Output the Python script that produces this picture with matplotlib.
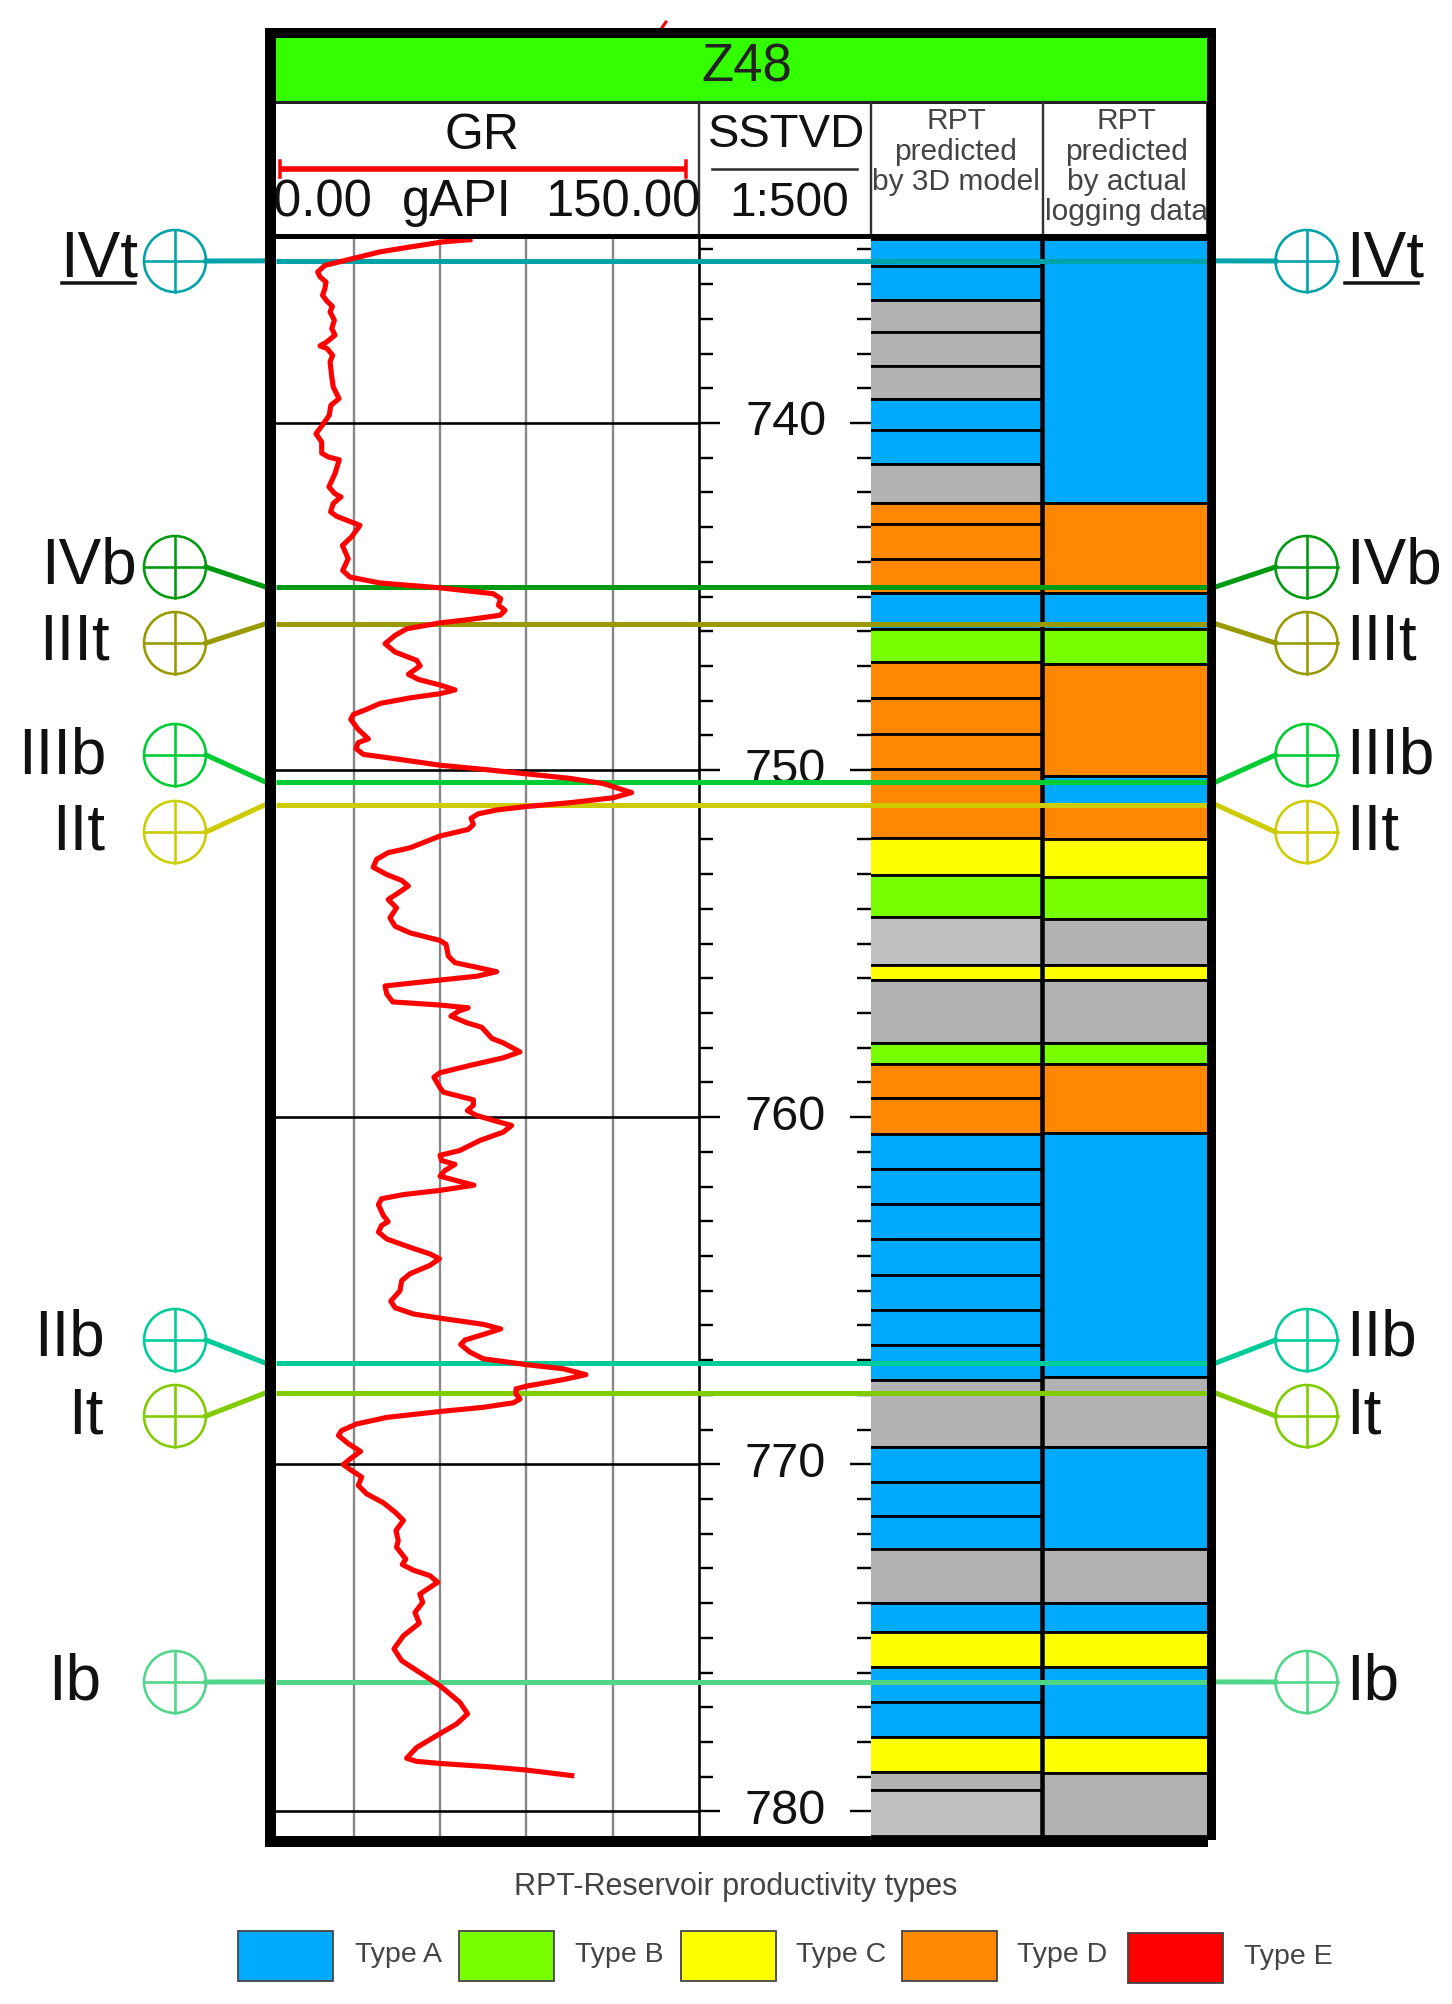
import matplotlib
matplotlib.use("Agg")
from matplotlib import pyplot as plt
from matplotlib.patches import Circle, Rectangle

plt.rcParams['font.family'] = ['Liberation Sans', 'DejaVu Sans']

# GR log (gAPI, m)
gr_values = [70.4, 61.2, 49.6, 39.2, 29.9, 20.0, 17.5, 18.3, 20.4, 20.0, 19.2, 20.6, 22.6, 21.8, 23.3, 22.4, 23.5,
             20.6, 18.3, 20.8, 22.7, 21.8, 22.4, 22.9, 24.9, 22.1, 21.5, 19.5, 16.9, 18.9, 18.9, 21.2, 25.0, 23.5,
             21.4, 23.5, 25.6, 22.9, 22.0, 24.1, 32.2, 29.3, 26.1, 28.1, 26.2, 28.7, 39.2, 60.0, 78.5, 81.1, 80.3,
             82.6, 80.9, 70.4, 60.0, 48.4, 44.4, 40.9, 44.4, 51.9,
             53.1, 49.0, 52.5, 60.0, 65.2, 60.0, 49.6, 39.2, 34.5, 29.9, 29.0, 31.6, 35.1, 31.6, 30.8, 33.4, 41.5,
             60.0, 75.1, 90.0, 105.2, 116.8, 126.6, 120.0, 105.2, 90.0, 79.7, 73.3, 70.8, 71.6, 69.8, 60.0, 53.6,
             49.6, 42.0, 38.0, 36.8, 41.5, 46.7, 49.0, 45.5, 42.0, 44.9, 42.6, 44.4, 49.6, 60.0, 62.1, 62.9, 65.2,
             72.7, 79.7, 72.7, 60.0, 40.9, 41.5, 43.6, 60.0, 69.8, 66.4, 63.8, 69.3, 74.5, 78.0, 82.0, 87.8, 82.0,
             70.4, 60.0, 57.9, 60.0,
             61.2, 71.6, 71.6, 69.5, 72.7, 79.7, 84.9, 82.0, 73.9, 66.9, 60.0, 60.6, 65.2, 61.7, 60.0, 65.8, 71.8,
             60.0, 47.3, 39.7, 38.6, 40.3, 42.0, 39.7, 38.6, 41.5, 49.6, 56.5, 59.8, 56.5, 49.6, 46.7, 46.1, 42.9,
             44.4, 50.7, 60.0, 75.1, 81.1, 75.1, 68.7, 67.2, 70.4, 75.0, 90.0, 102.9, 110.7, 102.9, 90.0, 86.4, 86.4,
             87.8, 85.5, 75.0, 60.0, 41.5, 31.0, 25.8, 24.7, 28.2, 32.4, 28.7, 26.4, 29.3, 32.8, 31.6, 34.5, 40.3,
             44.4, 47.3,
             44.7, 45.5, 44.9, 46.7, 48.1, 46.9, 50.7, 56.5, 59.2, 53.0, 54.0, 51.3, 52.8, 47.3, 44.0, 46.7, 60.0,
             66.9, 69.6, 65.8, 58.8, 51.9, 48.4, 51.9, 60.0, 76.2, 90.0, 105.8]
gr_depths = [734.72, 734.78, 734.93, 735.07, 735.26, 735.46, 735.65, 735.79, 735.94, 736.13, 736.32, 736.48, 736.64,
             736.80, 737.04, 737.28, 737.47, 737.67, 737.78, 737.86, 738.05, 738.24, 738.67, 738.96, 739.30, 739.49,
             739.78, 740.02, 740.31, 740.55, 740.87, 740.98, 741.06, 741.46, 741.84, 742.04, 742.13, 742.32, 742.56,
             742.69, 742.95, 743.28, 743.53, 743.91, 744.25, 744.44, 744.61, 744.75, 744.92, 745.06, 745.25, 745.40,
             745.54, 745.66, 745.76, 745.93, 746.12, 746.36, 746.60, 746.84,
             747.00, 747.24, 747.39, 747.55, 747.69, 747.80, 747.92, 748.08, 748.25, 748.40, 748.54, 748.83, 749.10,
             749.21, 749.38, 749.55, 749.64, 749.86, 749.98, 750.11, 750.24, 750.39, 750.65, 750.80, 750.94, 751.05,
             751.15, 751.26, 751.39, 751.57, 751.71, 751.90, 752.11, 752.24, 752.38, 752.57, 752.80, 753.01, 753.18,
             753.34, 753.54, 753.73, 753.97, 754.26, 754.50, 754.69, 754.91, 755.02, 755.36, 755.55, 755.68, 755.81,
             755.94, 756.05, 756.22, 756.45, 756.68, 756.77, 756.85, 756.95, 757.09, 757.28, 757.41, 757.73, 757.86,
             758.12, 758.29, 758.51, 758.72, 758.85, 759.15,
             759.28, 759.50, 759.66, 759.81, 759.95, 760.12, 760.24, 760.43, 760.67, 760.96, 761.10, 761.25, 761.36,
             761.54, 761.70, 761.83, 761.96, 762.11, 762.23, 762.35, 762.52, 762.83, 763.01, 763.12, 763.31, 763.51,
             763.75, 763.94, 764.08, 764.27, 764.51, 764.71, 765.00, 765.30, 765.49, 765.67, 765.79, 765.97, 766.10,
             766.26, 766.42, 766.55, 766.77, 766.96, 767.13, 767.25, 767.42, 767.56, 767.75, 767.83, 767.97, 768.12,
             768.23, 768.36, 768.48, 768.65, 768.84, 769.03, 769.17, 769.41, 769.63, 769.85, 770.01, 770.18, 770.37,
             770.61, 770.85, 771.11, 771.38, 771.62,
             771.91, 772.20, 772.39, 772.58, 772.73, 772.89, 773.05, 773.21, 773.40, 773.74, 773.98, 774.27, 774.58,
             774.94, 775.32, 775.66, 776.38, 776.86, 777.19, 777.48, 777.82, 778.16, 778.47, 778.56, 778.62, 778.71,
             778.81, 778.97]
# bit of the curve that sticks out above the frame
gr_stub_values = [136.0, 138.5]
gr_stub_depths = [728.75, 728.45]

depth_labels = [740, 750, 760, 770, 780]
depth_minor = list(range(735, 781))

# RPT columns: top of each layer, last entry is the bottom
col1_tops = [734.70, 735.49, 736.46, 737.38, 738.36, 739.31, 740.20, 741.18, 742.32, 742.92, 743.92, 744.90, 745.95,
             746.89, 747.92, 748.95, 749.97, 751.96, 753.02, 754.23, 755.62, 756.05, 757.86, 758.47, 759.45, 760.48,
             761.49, 762.50, 763.51, 764.55, 765.55, 766.56, 767.56, 769.50, 770.50, 771.49, 772.45, 774.00, 774.83,
             775.83, 776.85, 777.86, 778.87, 779.38, 780.71]
col1_types = ['A', 'A', 'G', 'G', 'G', 'A', 'A', 'G', 'D', 'D', 'D', 'A', 'B',
              'D', 'D', 'D', 'D', 'C', 'B', 'L', 'C', 'G', 'B', 'D', 'D', 'A',
              'A', 'A', 'A', 'A', 'A', 'A', 'G', 'A', 'A', 'A', 'G', 'A', 'C',
              'A', 'A', 'C', 'G', 'L']
col2_tops = [734.70, 742.32, 744.90, 745.95, 746.95, 750.17, 751.03, 751.98, 753.08, 754.29, 755.62, 756.05, 757.86,
             758.47, 760.46, 767.49, 769.50, 772.45, 774.00, 774.83, 775.83, 777.86, 778.89, 780.71]
col2_types = ['A', 'D', 'A', 'B', 'D', 'A', 'D', 'C', 'B', 'G', 'C', 'G', 'B',
              'D', 'A', 'G', 'A', 'G', 'A', 'C', 'A', 'C', 'G']
type_colors = {'A': '#00AAFF', 'B': '#77FF00', 'C': '#FFFF00', 'D': '#FF8800', 'E': '#FF0000',
               'G': '#B2B2B2', 'L': '#C0C0C0'}

# formation picks
pick_names = ['IVt', 'IVb', 'IIIt', 'IIIb', 'IIt', 'IIb', 'It', 'Ib']
pick_depths = [735.33, 744.72, 745.79, 750.34, 751.00, 767.08, 767.95, 776.27]
pick_colors = ['#00A3A8', '#009A10', '#999900', '#00CC33', '#CCCC00', '#00CC99', '#80CC00', '#50D688']

legend_names = ['Type A', 'Type B', 'Type C', 'Type D', 'Type E']
legend_keys = ['A', 'B', 'C', 'D', 'E']

# layout, pixels of the 1452x2004 picture
W, H = 1452, 2004
PX = 0.72
DEPTH_TOP, DEPTH_BOTTOM = 734.70, 780.71
LOG_TOP, LOG_BOTTOM = 239, 1836
FRAME_L, FRAME_R = 276, 1207
TRACK_X = [276, 699, 870.5, 1207]
GR_LEFT, GR_RIGHT = 3.02, 150
COL_SPLIT = 1.02

fig = plt.figure(figsize=(W / 100, H / 100), dpi=100, facecolor='white')


def place(x0, y0, x1, y1, z):
    ax = fig.add_axes([x0 / W, 1 - y1 / H, (x1 - x0) / W, (y1 - y0) / H], zorder=z)
    ax.patch.set_alpha(0)
    return ax


def depth_px(d):
    return LOG_TOP + (d - DEPTH_TOP) / (DEPTH_BOTTOM - DEPTH_TOP) * (LOG_BOTTOM - LOG_TOP)


# RPT columns
ax_rpt = place(TRACK_X[2], LOG_TOP, TRACK_X[3], LOG_BOTTOM, 1)
ax_rpt.set_xlim(0, 2)
ax_rpt.set_ylim(DEPTH_BOTTOM, DEPTH_TOP)
ax_rpt.axis('off')
col_edges = [(-0.03, COL_SPLIT), (COL_SPLIT, 2.03)]
for (x0, x1), tops, types in zip(col_edges, [col1_tops, col2_tops], [col1_types, col2_types]):
    for i, t in enumerate(types):
        ax_rpt.barh(tops[i], x1 - x0, height=tops[i + 1] - tops[i], left=x0, align='edge',
                    color=type_colors[t], edgecolor='black', linewidth=2.8 * PX)
ax_rpt.axvline(COL_SPLIT, color='black', lw=4.5 * PX)

# depth track
ax_depth = place(TRACK_X[1], LOG_TOP, TRACK_X[2], LOG_BOTTOM, 2)
ax_depth.set_xlim(0, 1)
ax_depth.set_ylim(DEPTH_BOTTOM, DEPTH_TOP)
for s in ['top', 'bottom', 'right']:
    ax_depth.spines[s].set_visible(False)
ax_depth.spines['left'].set_linewidth(2.6 * PX)
ax_depth.set_xticks([])
ax_depth.set_yticks(depth_labels)
ax_depth.set_yticks(depth_minor, minor=True)
ax_depth.tick_params(which='major', left=True, right=True, direction='in', length=21 * PX, width=2.4 * PX,
                     labelleft=False)
ax_depth.tick_params(which='minor', left=True, right=True, direction='in', length=14 * PX, width=2.4 * PX)
for d in depth_labels:
    ax_depth.text(0.505, d, str(d), ha='center', va='center', fontsize=35, color='#111111')

# GR track
ax_gr = place(TRACK_X[0], LOG_TOP, TRACK_X[1], LOG_BOTTOM, 3)
ax_gr.set_xlim(GR_LEFT, GR_RIGHT)
ax_gr.set_ylim(DEPTH_BOTTOM, DEPTH_TOP)
for s in ax_gr.spines.values():
    s.set_visible(False)
ax_gr.set_xticks([30, 60, 90, 120])
ax_gr.set_yticks(depth_labels)
ax_gr.tick_params(length=0, labelbottom=False, labelleft=False)
ax_gr.xaxis.grid(True, color='#888888', lw=2.4 * PX)
ax_gr.yaxis.grid(True, color='black', lw=2.6 * PX)
ax_gr.set_axisbelow(True)
span = (FRAME_R - FRAME_L) / (TRACK_X[1] - TRACK_X[0])
for d, c in zip(pick_depths, pick_colors):
    ax_gr.plot([0, span], [d, d], color=c, lw=5 * PX, transform=ax_gr.get_yaxis_transform(), clip_on=False,
               solid_capstyle='butt', zorder=2)
ax_gr.plot(gr_values, gr_depths, color='#FF0000', lw=3.7, solid_joinstyle='round', zorder=3)
ax_gr.plot(gr_stub_values, gr_stub_depths, color='#FF0000', lw=2.2, clip_on=False, zorder=1)

# everything drawn in picture pixels
ov = fig.add_axes([0, 0, 1, 1], zorder=10)
ov.set_xlim(0, W)
ov.set_ylim(H, 0)
ov.axis('off')
ov.patch.set_alpha(0)

# header
ov.add_patch(Rectangle((FRAME_L, 38), FRAME_R - FRAME_L, 63, fc='#33FF00', ec='none', zorder=1))
ov.plot([FRAME_L, FRAME_R], [101.5, 101.5], color='#222222', lw=3 * PX, zorder=2)
for x in [699, 870.5, 1042.6]:
    ov.plot([x, x], [102, 236], color='#333333', lw=2.4 * PX, zorder=2)
ov.plot([1207, 1207], [102, 236], color='#333333', lw=2 * PX, zorder=2)
txt = dict(ha='center', va='baseline', zorder=3)
ov.text(747, 81, 'Z48', fontsize=38, color='#222222', **txt)
ov.text(482, 149, 'GR', fontsize=36, color='#111111', **txt)
ov.plot([280, 686], [169, 169], color='#FF0000', lw=5.5 * PX, solid_capstyle='butt', zorder=3)
for x in [280, 686]:
    ov.plot([x, x], [161, 177], color='#FF0000', lw=3.5 * PX, zorder=3)
ov.text(322, 216, '0.00', fontsize=36.5, color='#111111', **txt)
ov.text(457, 216, 'gAPI', fontsize=36.5, color='#111111', **txt)
ov.text(623, 216, '150.00', fontsize=36.5, color='#111111', **txt)
ov.text(786.5, 147, 'SSTVD', fontsize=34, color='#111111', **txt)
ov.plot([712, 857], [169, 169], color='#333333', lw=2.6 * PX, zorder=3)
ov.text(789, 216, '1:500', fontsize=34.5, color='#111111', **txt)
for cx, lines in [(956, ['RPT', 'predicted', 'by 3D model']), (1126.5, ['RPT', 'predicted', 'by actual', 'logging data'])]:
    for base, s in zip([129, 160, 190, 220], lines):
        ov.text(cx, base, s, fontsize=21.5, color='#444444', **txt)

# picks: connectors, symbols, names
circle_y = [261, 567, 643, 755, 832, 1340, 1416, 1682]
name_right = [138, 137, 110, 106, 105, 105, 104, 101]
name_base = [276, 584, 660, 773, 849, 1356, 1433, 1699]
CL, CR, RAD = 175, 1306.5, 31
for name, d, c, cy, xr, yb in zip(pick_names, pick_depths, pick_colors, circle_y, name_right, name_base):
    ly = depth_px(d)
    ov.plot([CL + RAD, 265], [cy, ly], color=c, lw=5 * PX, zorder=2)
    ov.plot([1216, CR - RAD], [ly, cy], color=c, lw=5 * PX, zorder=2)
    for cx in [CL, CR]:
        ov.add_patch(Circle((cx, cy), RAD, fill=False, ec=c, lw=2.6 * PX, zorder=3))
        ov.plot([cx - RAD, cx + RAD], [cy, cy], color=c, lw=2.6 * PX, zorder=3)
        ov.plot([cx, cx], [cy - RAD, cy + RAD], color=c, lw=2.6 * PX, zorder=3)
    ov.text(xr, yb, name, fontsize=46, ha='right', va='baseline', color='#111111', zorder=3)
    ov.text(1346, yb, name, fontsize=46, ha='left', va='baseline', color='#111111', zorder=3)
ov.plot([62, 135], [283, 283], color='#111111', lw=3.5 * PX)
ov.plot([1345, 1418], [283, 283], color='#111111', lw=3.5 * PX)

# outer frame
for x, y, w, h in [(265, 28, 951, 10), (265, 28, 11, 1819), (1207, 28, 9, 1812), (265, 1836, 943, 11), (276, 234, 931, 5)]:
    ov.add_patch(Rectangle((x, y), w, h, fc='black', ec='none', zorder=5))

# legend
ov.text(736, 1887, 'RPT-Reservoir productivity types', fontsize=22, ha='center', va='center', color='#444444')
for name, key, sx, tx, sy in zip(legend_names, legend_keys, [238, 459, 681, 902, 1128], [355, 575, 796, 1017, 1244],
                                 [1931, 1931, 1931, 1931, 1933]):
    ov.add_patch(Rectangle((sx, sy), 95, 50, fc=type_colors[key], ec='#444444', lw=1.8 * PX))
    ov.text(tx, sy + 24, name, fontsize=20.5, ha='left', va='center', color='#444444')

fig.savefig('out.png', dpi=100)
